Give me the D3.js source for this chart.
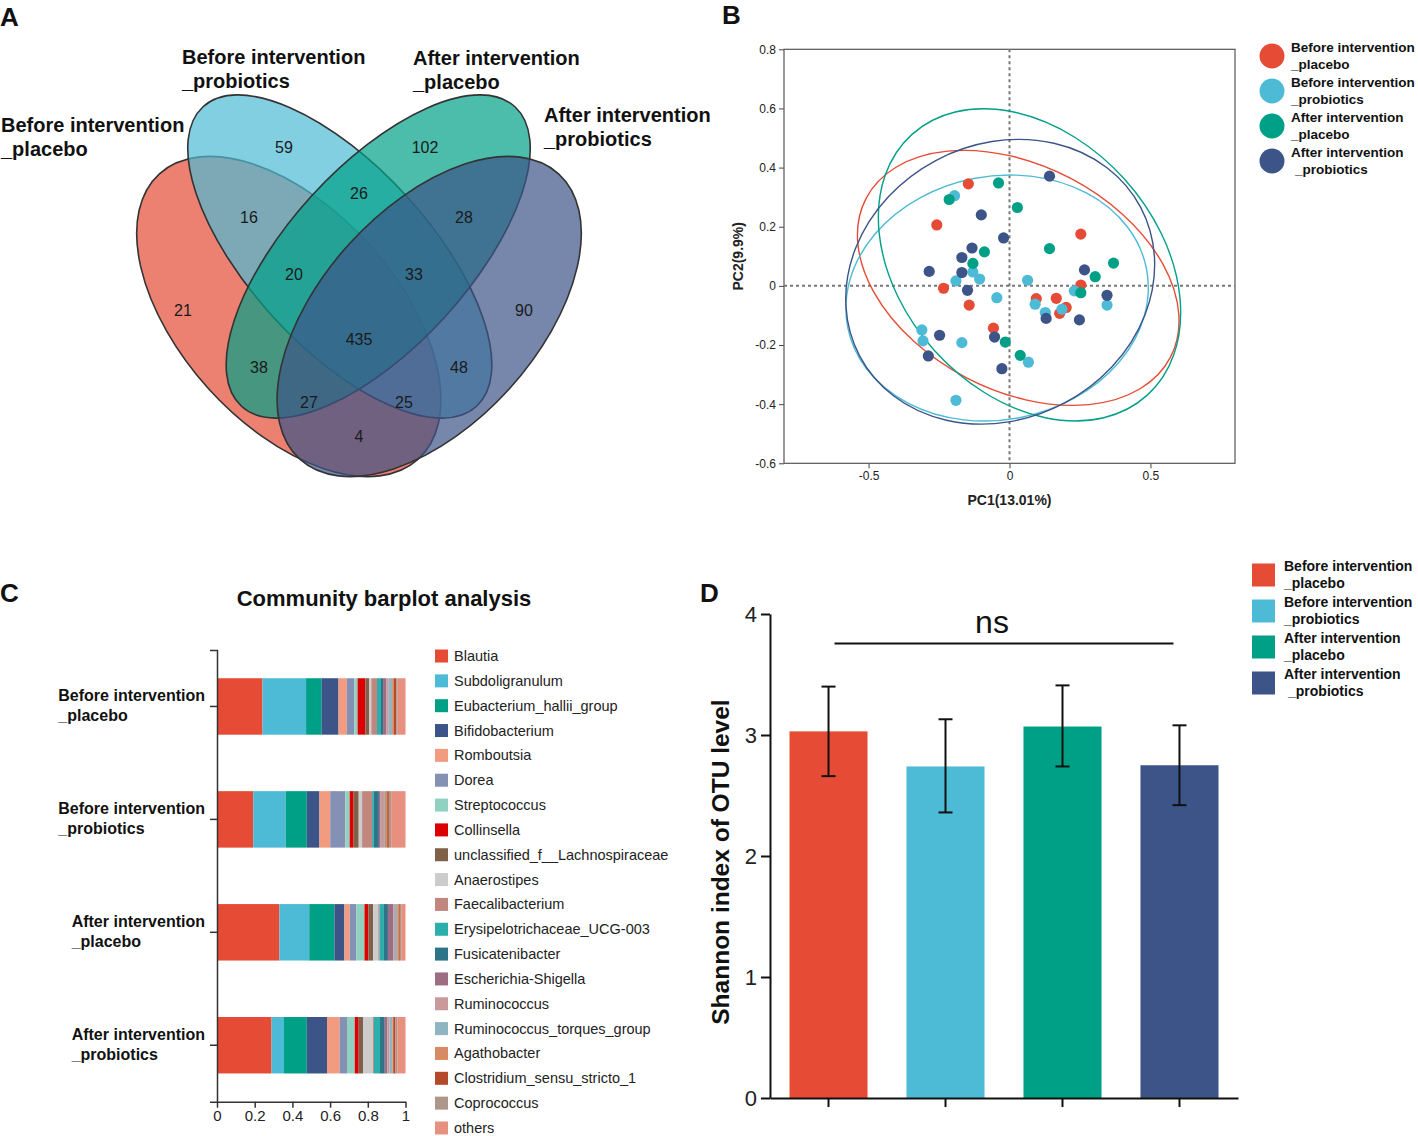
<!DOCTYPE html>
<html>
<head>
<meta charset="utf-8">
<script src="https://cdn.jsdelivr.net/npm/d3@7/dist/d3.min.js"></script>
<style>
  body { margin: 0; background: #fff; }
  svg { display: block; }
  text { font-family: 'Liberation Sans', Arial, Helvetica, sans-serif; }
</style>
</head>
<body>
<svg id="chart" width="1418" height="1136"></svg>
<script>
// ---------------- DATA ----------------
const groupLine1 = ["Before intervention", "Before intervention", "After intervention", "After intervention"];
const groupLine2 = ["_placebo", "_probiotics", "_placebo", "_probiotics"];
const groupColors = ["#E64B35", "#4DBBD5", "#00A087", "#3C5488"];

// Panel A: Venn region counts (membership: R=Before placebo, C=Before probiotics, G=After placebo, N=After probiotics)
const vennSets = ["R", "C", "G", "N"];
const vennRegions = ["R", "C", "G", "N", "RC", "CG", "GN", "RCG", "CGN", "RCGN", "RG", "CN", "RGN", "RCN", "RN"];
const vennCounts = [21, 59, 102, 90, 16, 26, 28, 20, 33, 435, 38, 48, 27, 25, 4];

// Panel B: PCoA sample scores [PC1, PC2]
const pcoaBeforePlacebo = [[-0.146,0.345],[-0.258,0.206],[0.253,0.175],[-0.234,-0.008],[-0.143,-0.065],[-0.057,-0.143],[0.095,-0.043],[0.166,-0.042],[0.201,-0.073],[0.178,-0.093],[0.253,0.003]];
const pcoaBeforeProbiotics = [[-0.195,0.305],[-0.190,0.017],[-0.130,0.047],[-0.106,0.023],[-0.045,-0.040],[0.064,0.019],[0.091,-0.062],[0.127,-0.090],[0.186,-0.079],[0.230,-0.017],[0.346,-0.065],[-0.311,-0.149],[-0.307,-0.186],[-0.169,-0.192],[0.067,-0.258],[-0.190,-0.387]];
const pcoaAfterPlacebo = [[-0.039,0.348],[-0.214,0.292],[0.028,0.265],[-0.089,0.115],[-0.130,0.076],[0.142,0.126],[0.369,0.077],[0.304,0.031],[0.253,-0.023],[-0.015,-0.190],[0.038,-0.235]];
const pcoaAfterProbiotics = [[0.142,0.371],[-0.100,0.240],[-0.021,0.162],[-0.133,0.128],[-0.169,0.096],[-0.285,0.049],[-0.169,0.045],[-0.149,-0.015],[0.266,0.054],[0.346,-0.032],[0.130,-0.110],[0.248,-0.115],[-0.248,-0.167],[-0.053,-0.173],[-0.288,-0.237],[-0.027,-0.280]];
// confidence ellipses: centre (PC1, PC2), semi-axes (PC units), tilt (deg)
const ellipseCx = [0.031, -0.044, 0.071, -0.033];
const ellipseCy = [0.027, -0.041, 0.071, 0.014];
const ellipseA = [0.609, 0.540, 0.623, 0.564];
const ellipseB = [0.399, 0.432, 0.454, 0.487];
const ellipseTilt = [27.6, -11, 48, -28];
const pcXTicks = [-0.5, 0, 0.5];
const pcYTicks = [-0.6, -0.4, -0.2, 0, 0.2, 0.4, 0.6, 0.8];

// Panel C: community composition (relative abundance)
const genera = ["Blautia","Subdoligranulum","Eubacterium_hallii_group","Bifidobacterium","Romboutsia","Dorea","Streptococcus","Collinsella","unclassified_f__Lachnospiraceae","Anaerostipes","Faecalibacterium","Erysipelotrichaceae_UCG-003","Fusicatenibacter","Escherichia-Shigella","Ruminococcus","Ruminococcus_torques_group","Agathobacter","Clostridium_sensu_stricto_1","Coprococcus","others"];
const genusColors = ["#E64B35","#4DBBD5","#00A087","#3C5488","#F39B7F","#8491B4","#91D1C2","#DC0000","#7E6148","#CCCCCC","#C1877F","#2BAFAC","#2E7488","#9C6D83","#C9999C","#8EB5C0","#D88A62","#B44A2A","#AC978A","#E8907F"];
const abundBeforePlacebo = [0.241,0.231,0.083,0.089,0.044,0.039,0.018,0.041,0.021,0.011,0.030,0.021,0.011,0.018,0.012,0.018,0.009,0.014,0.007,0.041];
const abundBeforeProbiotics = [0.192,0.172,0.112,0.067,0.057,0.080,0.023,0.021,0.027,0.018,0.053,0.009,0.027,0.009,0.018,0.005,0.012,0.009,0.012,0.076];
const abundAfterPlacebo = [0.330,0.158,0.133,0.053,0.028,0.034,0.044,0.021,0.025,0.027,0.007,0.023,0.021,0.028,0.009,0.012,0.009,0.005,0.007,0.023];
const abundAfterProbiotics = [0.289,0.066,0.121,0.107,0.067,0.039,0.041,0.021,0.023,0.053,0.005,0.032,0.025,0.014,0.012,0.014,0.005,0.012,0.009,0.044];
const abundXTicks = [0, 0.2, 0.4, 0.6, 0.8, 1];

// Panel D: Shannon index
const shannonMean = [3.03, 2.74, 3.07, 2.75];
const shannonLow = [2.66, 2.36, 2.74, 2.42];
const shannonHigh = [3.40, 3.13, 3.41, 3.08];
const shannonTicks = [0, 1, 2, 3, 4];

// ---------------- DRAWING ----------------
const svg = d3.select("#chart");
const FONT = "'Liberation Sans', Arial, sans-serif";

// panel letters
[["A", 0, 26], ["B", 722, 24], ["C", 0, 602], ["D", 700, 602]].forEach(([t, x, y]) => {
  svg.append("text").attr("x", x).attr("y", y).attr("font-size", 26).attr("font-weight", "bold").attr("fill", "#111").text(t);
});

// ===== Panel A: Venn =====
(function () {
  const vx = d3.scaleLinear().domain([0, 1]).range([59, 659]);
  const vy = d3.scaleLinear().domain([0, 1]).range([598.5, -1.5]);
  const unit = vx(1) - vx(0);
  // layout of the four ellipses in unit space
  const shape = [
    { cx: 0.383, cy: 0.470, a: 0.321, b: 0.180, rot: 47.8 },
    { cx: 0.468, cy: 0.570, a: 0.338, b: 0.150, rot: 47.6 },
    { cx: 0.532, cy: 0.570, a: 0.338, b: 0.150, rot: -47.6 },
    { cx: 0.617, cy: 0.470, a: 0.321, b: 0.180, rot: -47.8 }
  ];
  const g = svg.append("g");
  vennSets.forEach((s, i) => {
    const e = shape[i];
    g.append("ellipse")
      .attr("cx", vx(e.cx)).attr("cy", vy(e.cy))
      .attr("rx", e.a * unit).attr("ry", e.b * unit)
      .attr("transform", `rotate(${e.rot},${vx(e.cx)},${vy(e.cy)})`)
      .attr("fill", groupColors[i]).attr("fill-opacity", 0.7)
      .attr("stroke", "#333").attr("stroke-width", 1.6);
  });
  const labelPos = {
    R: [0.2067, 0.4808], C: [0.375, 0.7525], G: [0.61, 0.7525], N: [0.775, 0.4808],
    RC: [0.3167, 0.6358], CG: [0.5, 0.6742], GN: [0.675, 0.6358],
    RCG: [0.3917, 0.5392], CGN: [0.5917, 0.5392], RCGN: [0.5, 0.4325],
    RG: [0.3333, 0.3842], CN: [0.6667, 0.3842], RGN: [0.4167, 0.3275], RCN: [0.575, 0.3275], RN: [0.5, 0.2692]
  };
  vennRegions.forEach((r, i) => {
    const p = labelPos[r];
    g.append("text").attr("x", vx(p[0])).attr("y", vy(p[1]))
      .attr("text-anchor", "middle").attr("dominant-baseline", "central")
      .attr("font-size", 16).attr("fill", "#1a1a1a").text(vennCounts[i]);
  });
  const titlePos = [[1, 125], [182, 57], [413, 58], [544, 115]];
  vennSets.forEach((s, i) => {
    const t = g.append("text").attr("font-size", 20).attr("font-weight", "bold").attr("fill", "#111");
    t.append("tspan").attr("x", titlePos[i][0]).attr("y", titlePos[i][1]).attr("dominant-baseline", "central").text(groupLine1[i]);
    t.append("tspan").attr("x", titlePos[i][0]).attr("y", titlePos[i][1] + 24).attr("dominant-baseline", "central").text(groupLine2[i]);
  });
})();

// ===== Panel B: PCoA =====
(function () {
  const x = d3.scaleLinear().domain([-0.8, 0.8]).range([784, 1235]);
  const y = d3.scaleLinear().domain([-0.6, 0.8]).range([463.3, 49.3]);
  const g = svg.append("g");
  const fmt = d => Math.abs(d) < 1e-9 ? "0" : d.toFixed(1);
  const ax = g.append("g").attr("transform", `translate(0,${y(-0.6)})`)
    .call(d3.axisBottom(x).tickValues(pcXTicks).tickFormat(fmt).tickSize(5).tickSizeOuter(0));
  const ay = g.append("g").attr("transform", `translate(${x(-0.8)},0)`)
    .call(d3.axisLeft(y).tickValues(pcYTicks).tickFormat(fmt).tickSize(5).tickSizeOuter(0));
  [ax, ay].forEach(a => {
    a.select(".domain").remove();
    a.selectAll("line").attr("stroke", "#444");
    a.selectAll("text").attr("font-size", 12).attr("fill", "#222").attr("font-family", FONT);
  });
  g.append("rect").attr("x", x(-0.8)).attr("y", y(0.8)).attr("width", x(0.8) - x(-0.8)).attr("height", y(-0.6) - y(0.8))
    .attr("fill", "none").attr("stroke", "#555").attr("stroke-width", 1.2);
  g.append("line").attr("x1", x(0)).attr("x2", x(0)).attr("y1", y(0.8)).attr("y2", y(-0.6))
    .attr("stroke", "#777").attr("stroke-width", 2).attr("stroke-dasharray", "3,3");
  g.append("line").attr("x1", x(-0.8)).attr("x2", x(0.8)).attr("y1", y(0)).attr("y2", y(0))
    .attr("stroke", "#777").attr("stroke-width", 2).attr("stroke-dasharray", "3,3");
  const k = x(1) - x(0);
  groupColors.forEach((c, i) => {
    const cx = x(ellipseCx[i]), cy = y(ellipseCy[i]);
    g.append("ellipse").attr("cx", cx).attr("cy", cy)
      .attr("rx", ellipseA[i] * k).attr("ry", ellipseB[i] * k)
      .attr("transform", `rotate(${ellipseTilt[i]},${cx},${cy})`)
      .attr("fill", "none").attr("stroke", c).attr("stroke-width", 1.4);
  });
  const sets = [pcoaBeforePlacebo, pcoaBeforeProbiotics, pcoaAfterPlacebo, pcoaAfterProbiotics];
  sets.forEach((pts, i) => {
    g.selectAll(null).data(pts).enter().append("circle")
      .attr("cx", d => x(d[0])).attr("cy", d => y(d[1])).attr("r", 5.6).attr("fill", groupColors[i]);
  });
  g.append("text").attr("x", x(0)).attr("y", 500).attr("text-anchor", "middle").attr("dominant-baseline", "central")
    .attr("font-size", 14).attr("font-weight", "bold").attr("fill", "#222").text("PC1(13.01%)");
  g.append("text").attr("transform", `translate(738,${y(0.1)}) rotate(-90)`).attr("text-anchor", "middle")
    .attr("dominant-baseline", "central").attr("font-size", 14).attr("font-weight", "bold").attr("fill", "#222").text("PC2(9.9%)");
  // legend
  const ly = d3.scaleBand().domain(d3.range(4)).range([38.5, 178.5]);
  groupColors.forEach((c, i) => {
    const cy = ly(i) + ly.bandwidth() / 2;
    g.append("circle").attr("cx", 1272).attr("cy", cy).attr("r", 12.5).attr("fill", c);
    const t = g.append("text").attr("font-size", 13.5).attr("font-weight", "bold").attr("fill", "#111");
    t.append("tspan").attr("x", 1291).attr("y", cy - 9).attr("dominant-baseline", "central").text(groupLine1[i]);
    t.append("tspan").attr("x", i === 3 ? 1295 : 1291).attr("y", cy + 8).attr("dominant-baseline", "central").text(groupLine2[i]);
  });
})();

// ===== Panel C: Community barplot =====
(function () {
  const x = d3.scaleLinear().domain([0, 1]).range([217, 405.5]);
  const y = d3.scaleBand().domain(d3.range(4)).range([650, 1101.7]).paddingInner(0.5).paddingOuter(0.25);
  const g = svg.append("g");
  g.append("text").attr("x", 384).attr("y", 598).attr("text-anchor", "middle").attr("dominant-baseline", "central")
    .attr("font-size", 22).attr("font-weight", "bold").attr("fill", "#111").text("Community barplot analysis");
  const table = [abundBeforePlacebo, abundBeforeProbiotics, abundAfterPlacebo, abundAfterProbiotics];
  table.forEach((row, gi) => {
    const total = d3.sum(row);
    const cum = d3.cumsum(row).map(v => v / total);
    row.forEach((v, j) => {
      const x0 = j === 0 ? 0 : cum[j - 1];
      g.append("rect").attr("x", x(x0)).attr("width", x(cum[j]) - x(x0))
        .attr("y", y(gi)).attr("height", y.bandwidth()).attr("fill", genusColors[j]);
    });
  });
  const ax = g.append("g").attr("transform", `translate(0,${y.range()[1]})`)
    .call(d3.axisBottom(x).tickValues(abundXTicks).tickFormat(d => (d === 0 || d === 1) ? String(d) : d.toFixed(1)).tickSize(6).tickSizeOuter(0));
  ax.selectAll("text").attr("font-size", 15).attr("fill", "#222").attr("font-family", FONT);
  ax.selectAll("line,path").attr("stroke", "#333").attr("stroke-width", 1.5);
  const ay = g.append("g").attr("transform", `translate(${x(0)},0)`)
    .call(d3.axisLeft(y).tickFormat("").tickSize(7).tickSizeOuter(7));
  ay.selectAll("line,path").attr("stroke", "#333").attr("stroke-width", 1.5);
  // group labels (two lines, left aligned, block right aligned)
  d3.range(4).forEach(i => {
    const cy = y(i) + y.bandwidth() / 2;
    const t = g.append("text").attr("font-size", 16).attr("font-weight", "bold").attr("fill", "#111");
    const s1 = t.append("tspan").attr("y", cy - 11).attr("dominant-baseline", "central").text(groupLine1[i]);
    const s2 = t.append("tspan").attr("y", cy + 9).attr("dominant-baseline", "central").text(groupLine2[i]);
    const w = Math.max(s1.node().getComputedTextLength(), s2.node().getComputedTextLength());
    s1.attr("x", 205 - w); s2.attr("x", 205 - w);
  });
  // legend
  const ly = d3.scaleBand().domain(d3.range(genera.length)).range([643.6, 1140.4]);
  genera.forEach((name, j) => {
    const cy = ly(j) + ly.bandwidth() / 2;
    g.append("rect").attr("x", 435).attr("y", cy - 6.5).attr("width", 13).attr("height", 13).attr("fill", genusColors[j]);
    g.append("text").attr("x", 454).attr("y", cy).attr("dominant-baseline", "central")
      .attr("font-size", 14.5).attr("fill", "#222").text(name);
  });
})();

// ===== Panel D: Shannon =====
(function () {
  const x = d3.scaleBand().domain(d3.range(4)).range([770, 1238]).paddingInner(0.333).paddingOuter(0.1667);
  const y = d3.scaleLinear().domain([0, 4]).range([1098, 614]);
  const g = svg.append("g");
  shannonMean.forEach((v, i) => {
    g.append("rect").attr("x", x(i)).attr("width", x.bandwidth()).attr("y", y(v)).attr("height", y(0) - y(v)).attr("fill", groupColors[i]);
  });
  shannonMean.forEach((v, i) => {
    const cx = x(i) + x.bandwidth() / 2;
    g.append("line").attr("x1", cx).attr("x2", cx).attr("y1", y(shannonLow[i])).attr("y2", y(shannonHigh[i])).attr("stroke", "#111").attr("stroke-width", 2);
    [shannonLow[i], shannonHigh[i]].forEach(e => {
      g.append("line").attr("x1", cx - 7).attr("x2", cx + 7).attr("y1", y(e)).attr("y2", y(e)).attr("stroke", "#111").attr("stroke-width", 2);
    });
  });
  const ay = g.append("g").attr("transform", `translate(${x.range()[0]},0)`)
    .call(d3.axisLeft(y).tickValues(shannonTicks).tickFormat(d3.format("d")).tickSize(9).tickPadding(4).tickSizeOuter(0));
  ay.selectAll("text").attr("font-size", 22).attr("fill", "#222").attr("font-family", FONT);
  ay.selectAll("line,path").attr("stroke", "#111").attr("stroke-width", 2);
  const ax = g.append("g").attr("transform", `translate(0,${y(0)})`)
    .call(d3.axisBottom(x).tickFormat("").tickSize(9).tickSizeOuter(0));
  ax.selectAll("line,path").attr("stroke", "#111").attr("stroke-width", 2);
  g.append("text").attr("transform", `translate(720,${y(1.95)}) rotate(-90)`).attr("text-anchor", "middle")
    .attr("dominant-baseline", "central").attr("font-size", 24.5).attr("font-weight", "bold").attr("fill", "#111").text("Shannon index of OTU level");
  // significance bracket
  const x1 = x(0) + x.bandwidth() / 2 + 6, x2 = x(3) + x.bandwidth() / 2 - 6;
  g.append("line").attr("x1", x1).attr("x2", x2).attr("y1", y(3.757)).attr("y2", y(3.757)).attr("stroke", "#111").attr("stroke-width", 2);
  g.append("text").attr("x", (x1 + x2) / 2 - 12).attr("y", y(3.93)).attr("text-anchor", "middle").attr("dominant-baseline", "central")
    .attr("font-family", "'Liberation Serif','Times New Roman',serif").attr("font-size", 32).attr("fill", "#111").text("ns");
  // legend
  const ly = d3.scaleBand().domain(d3.range(4)).range([557, 701]);
  groupColors.forEach((c, i) => {
    const cy = ly(i) + ly.bandwidth() / 2;
    g.append("rect").attr("x", 1252).attr("y", cy - 11.5).attr("width", 23).attr("height", 23).attr("fill", c);
    const t = g.append("text").attr("font-size", 14).attr("font-weight", "bold").attr("fill", "#111");
    t.append("tspan").attr("x", 1284).attr("y", cy - 9).attr("dominant-baseline", "central").text(groupLine1[i]);
    t.append("tspan").attr("x", i === 3 ? 1288 : 1284).attr("y", cy + 8).attr("dominant-baseline", "central").text(groupLine2[i]);
  });
})();
</script>
</body>
</html>
